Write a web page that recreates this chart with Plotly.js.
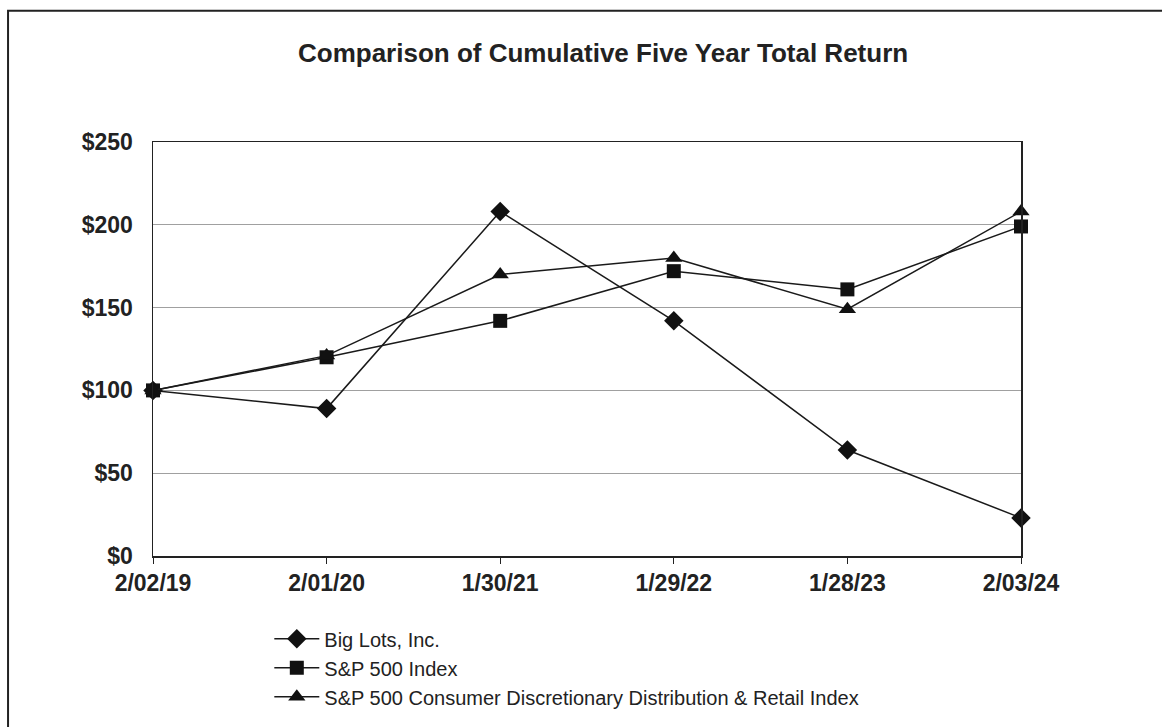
<!DOCTYPE html>
<html>
<head>
<meta charset="utf-8">
<script src="https://cdn.plot.ly/plotly-3.0.1.min.js"></script>
<style>
  html, body { margin: 0; padding: 0; background: #fff; }
  #chart { width: 1162px; height: 727px; }
</style>
</head>
<body>
<div id="chart"></div>
<script>
const categories = ["2/02/19", "2/01/20", "1/30/21", "1/29/22", "1/28/23", "2/03/24"];
const bigLots = [100, 89, 208, 142, 64, 23];
const sp500 = [100, 120, 142, 172, 161, 199];
const consDisc = [100, 121, 170, 180, 149, 208];
const yTickVals = [0, 50, 100, 150, 200, 250];
const yTickText = ["$0", "$50", "$100", "$150", "$200", "$250"];

const lineStyle = { color: "#1a1a1a", width: 1.5 };
const traces = [
  { x: categories, y: bigLots, name: "Big Lots, Inc.", type: "scatter", mode: "lines+markers",
    line: lineStyle, marker: { symbol: "diamond", size: 15, color: "#111" }, cliponaxis: false },
  { x: categories, y: sp500, name: "S&P 500 Index", type: "scatter", mode: "lines+markers",
    line: lineStyle, marker: { symbol: "square", size: 14, color: "#111" }, cliponaxis: false },
  { x: categories, y: consDisc, name: "S&P 500 Consumer Discretionary Distribution & Retail Index", type: "scatter", mode: "lines+markers",
    line: lineStyle, marker: { symbol: "triangle-up", size: 15, color: "#111" }, cliponaxis: false }
];

const layout = {
  width: 1162, height: 727,
  margin: { l: 153, r: 141, t: 142, b: 170 },
  paper_bgcolor: "#fff", plot_bgcolor: "#fff",
  font: { family: "Liberation Sans, Arial, sans-serif", color: "#222" },
  title: { text: "Comparison of Cumulative Five Year Total Return", x: 0.519, xanchor: "center", y: 0.927, yanchor: "middle",
    font: { size: 26, color: "#222", weight: "bold" } },
  xaxis: { type: "category", range: [0, 5], showgrid: false, showline: true, linecolor: "#222", linewidth: 1.5, mirror: true,
    ticks: "outside", ticklen: 6, tickcolor: "#222", tickfont: { size: 23, weight: "bold", color: "#222" }, zeroline: false },
  yaxis: { range: [0, 250], tickvals: yTickVals, ticktext: yTickText, showgrid: true, gridcolor: "#a0a0a0", gridwidth: 1.2,
    showline: true, linecolor: "#222", linewidth: 1.5, mirror: true, ticks: "", ticklabelstandoff: 14,
    tickfont: { size: 23, weight: "bold", color: "#222" }, zeroline: false },
  showlegend: true,
  legend: { x: 0.134, xanchor: "left", y: -0.15, yanchor: "top", orientation: "v",
    font: { size: 20, color: "#222" }, bgcolor: "rgba(0,0,0,0)", itemwidth: 45, tracegroupgap: 0 },
  shapes: [
    { type: "rect", xref: "paper", yref: "paper", x0: -0.167, x1: 1.3, y0: -0.6, y1: 1.317,
      line: { color: "#222", width: 2 }, layer: "below" }
  ]
};

Plotly.newPlot("chart", traces, layout, { displayModeBar: false, staticPlot: true });
</script>
</body>
</html>
